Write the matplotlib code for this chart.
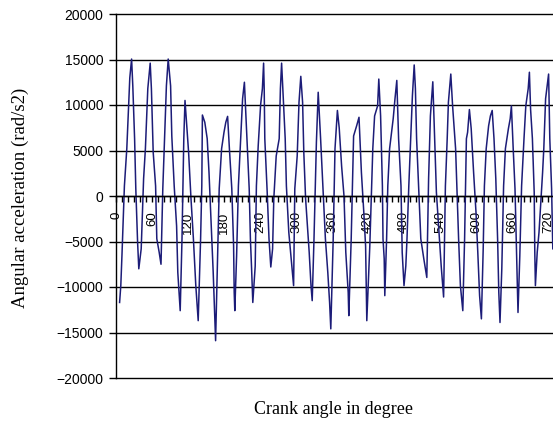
import matplotlib.pyplot as plt
from matplotlib.ticker import MultipleLocator

# crank angle (deg) and angular acceleration (rad/s2)
angle = [6, 8, 10, 14, 18, 21, 23, 26, 28, 31, 33, 36, 38, 42, 46, 49, 53, 57,
         59, 62, 66, 68, 72, 75, 78, 81, 84, 87, 91, 93, 97, 101, 103, 107,
         110, 113, 115, 121, 125, 129, 133, 137, 141, 143, 144, 148, 152, 155,
         158, 162, 166, 169, 172, 176, 180, 183, 186, 189, 193, 196, 197, 198,
         201, 204, 207, 211, 214, 218, 222, 224, 226, 228, 232, 234, 237, 241,
         244, 246, 247, 248, 252, 255, 258, 261, 263, 267, 272, 274, 276, 278,
         282, 284, 288, 292, 296, 298, 302, 305, 308, 311, 313, 316, 322, 325,
         327, 330, 334, 337, 341, 345, 349, 353, 356, 358, 362, 365, 369, 372,
         376, 380, 383, 387, 388, 392, 396, 401, 405, 409, 413, 416, 418, 423,
         426, 428, 431, 436, 438, 441, 444, 445, 447, 448, 451, 453, 456, 462,
         465, 468, 471, 475, 477, 480, 483, 485, 488, 494, 497, 499, 501, 504,
         508, 513, 518, 521, 524, 528, 531, 534, 539, 542, 546, 549, 552, 554,
         558, 561, 566, 568, 571, 574, 578, 581, 584, 586, 589, 592, 596, 600,
         603, 606, 609, 612, 614, 617, 621, 624, 627, 630, 633, 636, 638, 640,
         643, 646, 649, 654, 657, 659, 662, 665, 667, 670, 673, 676, 680, 683,
         687, 689, 691, 694, 697, 698, 699, 702, 705, 711, 713, 716, 721, 723,
         726, 728]
accel = [-11700, -9850, -6400, 1100, 5200, 9900, 13000, 15050, 12100, 6300, 800,
         -5100, -8000, -5800, 1900, 5200, 11800, 14600, 11800, 4800, 1100, -4700,
         -6200, -7500, 800, 6300, 12100, 15050, 12100, 6600, 1100, -3300, -8400,
         -12600, -4700, 6300, 10500, 4800, -300, -4700, -9850, -13700, -4700,
         1100, 8900, 8100, 6300, 2600, -2200, -8400, -15900, -7700, 800, 5200,
         7000, 8100, 8750, 5200, 800, -5500, -10600, -12600, -6600, 1100, 5200,
         10700, 12500, 6600, 800, -4700, -8000, -11700, -7700, 1100, 5500, 10000,
         11800, 14600, 11800, 6300, 400, -4700, -7800, -5800, -300, 4400, 6300,
         11800, 14600, 11800, 6300, 1100, -4000, -6900, -9850, 800, 4400, 10300,
         13150, 10300, 4800, -300, -6200, -9850, -11500, -4700, 5900, 11400, 6300,
         800, -4700, -8400, -11700, -14600, -4700, 5200, 9400, 7500, 3300, 0,
         -6200, -10600, -13150, -4700, 6600, 7700, 8650, 2600, -1800, -5500,
         -13700, -5500, 800, 5200, 8800, 9900, 12850, 8800, 1100, -4700, -6900,
         -10950, -4700, 1100, 5200, 8500, 10700, 12700, 6300, 1100, -6200, -9850,
         -7700, -4700, 1100, 11000, 14400, 11800, 6300, 1500, -4700, -6900, -8950,
         1900, 8800, 12550, 6300, 400, -4700, -7700, -11100, 1100, 6300, 10300,
         13400, 9900, 5200, 1100, -4700, -9850, -12600, -4700, 6300, 7000, 9500,
         7400, 2600, -1800, -6200, -10950, -13500, -5800, 1100, 5200, 7700, 8800,
         9400, 6300, 1900, -4700, -10600, -13900, -8000, 1100, 5200, 7400, 8500,
         9900, 5200, 800, -4700, -12800, -6600, 1100, 6300, 9900, 11800, 13600,
         9500, 6300, 400, -6200, -9850, -6200, -4000, 2600, 5200, 10700, 13400,
         6300, 800, -5800]

fig = plt.figure(figsize=(5.53, 4.25), dpi=100)
# plot area runs past the right edge of the picture, like the cropped original
ax = fig.add_axes([116 / 553, 47 / 425, 444 / 553, 364 / 425])

ax.plot(angle, accel, color='#1c1c78', linewidth=1.1)

ax.set_xlim(0, 740)
ax.set_ylim(-20000, 20000)
ax.yaxis.set_major_locator(MultipleLocator(5000))
ax.yaxis.grid(True, color='black', linewidth=1)
for gl in ax.get_ygridlines():
    gl.set_clip_on(False)
ax.set_axisbelow(True)

ax.spines['bottom'].set_position(('data', 0))
ax.spines['top'].set_visible(False)
ax.spines['right'].set_visible(False)
for s in ('left', 'bottom'):
    ax.spines[s].set_color('black')
    ax.spines[s].set_linewidth(1)

ax.xaxis.set_major_locator(MultipleLocator(60))
ax.xaxis.set_minor_locator(MultipleLocator(10))
ax.tick_params(axis='x', which='both', direction='out', length=4, width=1, pad=7)
ax.tick_params(axis='y', direction='out', length=5, width=1, pad=4)
for lab in ax.get_xticklabels():
    lab.set_rotation(90)
    lab.set_fontsize(9.5)
    lab.set_family('Liberation Sans')
for lab in ax.get_yticklabels():
    lab.set_fontsize(10)
    lab.set_family('Liberation Sans')

fig.text(20 / 553, 1 - 198 / 425, 'Angular acceleration (rad/s2)', rotation=90,
         ha='center', va='center', family='Liberation Serif', fontsize=13.5)
fig.text(334 / 553, 1 - 410 / 425, 'Crank angle in degree',
         ha='center', va='center', family='Liberation Serif', fontsize=13)

fig.savefig('out.png', dpi=100)
